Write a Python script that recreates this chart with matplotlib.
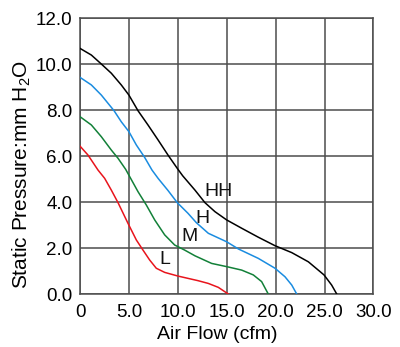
import matplotlib
matplotlib.use('Agg')
import matplotlib.pyplot as plt

plt.rcParams['font.family'] = ['Liberation Sans', 'DejaVu Sans']
plt.rcParams['mathtext.default'] = 'regular'

# fan curves (cfm, mm H2O)
hh_x = [0, 1.16, 2.18, 3.2, 4.22, 5.0, 5.93, 6.95, 7.98, 9.0, 9.95, 10.5, 11.75,
	12.78, 13.8, 15.0, 16.53, 18.23, 19.94, 21.65, 23.35, 24.95, 25.73, 26.25]
hh_y = [10.68, 10.39, 10.0, 9.6, 9.09, 8.65, 7.97, 7.35, 6.7, 6.04, 5.46, 5.14, 4.52,
	3.97, 3.58, 3.22, 2.86, 2.47, 2.1, 1.8, 1.4, 0.83, 0.39, 0.0]

h_x = [0, 1.16, 2.18, 3.48, 4.22, 5.0, 5.76, 6.61, 7.36, 8.0, 9.0, 9.95, 11.04,
	11.9, 13.12, 15.0, 16.19, 18.23, 19.94, 20.96, 21.65, 22.16]
h_y = [9.42, 9.09, 8.65, 7.97, 7.49, 7.06, 6.48, 5.94, 5.39, 5.02, 4.5, 3.97, 3.51,
	3.1, 2.64, 2.27, 1.96, 1.55, 1.12, 0.75, 0.39, 0.0]

m_x = [0, 1.16, 2.18, 3.2, 3.89, 4.67, 5.93, 6.78, 7.64, 8.66, 9.68, 10.7, 11.76,
	13.46, 15.0, 16.53, 17.72, 18.57, 19.25]
m_y = [7.71, 7.35, 6.84, 6.26, 5.9, 5.42, 4.45, 3.87, 3.22, 2.57, 2.13, 1.91, 1.66,
	1.33, 1.19, 1.04, 0.83, 0.54, 0.0]

l_x = [0, 0.82, 1.84, 2.52, 3.2, 3.89, 4.91, 5.76, 6.44, 7.12, 7.8, 8.66, 10.02,
	12.07, 13.12, 14.14, 15.16]
l_y = [6.43, 6.04, 5.39, 5.03, 4.52, 3.97, 3.07, 2.35, 1.91, 1.48, 1.12, 0.94, 0.78,
	0.58, 0.46, 0.29, 0.0]

curve_names = ['HH', 'H', 'M', 'L']
label_pos = [(14.2, 4.46), (12.5, 3.3), (11.15, 2.52), (8.7, 1.48)]
colors = ['#000000', '#1a8ce0', '#128038', '#e8141c']

xticks = [0, 5, 10, 15, 20, 25, 30]
xtick_labels = ['0', '5.0', '10.0', '15.0', '20.0', '25.0', '30.0']
yticks = [0, 2, 4, 6, 8, 10, 12]
ytick_labels = ['0.0', '2.0', '4.0', '6.0', '8.0', '10.0', '12.0']

GRID = '#4d4d4d'

fig = plt.figure(figsize=(4.0, 3.47), dpi=100)
ax = fig.add_axes([0.2, 0.1527, 0.7335, 0.7954])

curves = [(hh_x, hh_y), (h_x, h_y), (m_x, m_y), (l_x, l_y)]
for (xs, ys), c in zip(curves, colors):
	ax.plot(xs, ys, color=c, linewidth=1.1, zorder=3, solid_joinstyle='round')

for name, (tx, ty) in zip(curve_names, label_pos):
	ax.text(tx, ty, name, fontsize=14, ha='center', va='center', color='#111111', zorder=4)

ax.set_xlim(0, 30)
ax.set_ylim(0, 12)
ax.set_xticks(xticks)
ax.set_xticklabels(xtick_labels)
ax.set_yticks(yticks)
ax.set_yticklabels(ytick_labels)
ax.tick_params(length=0, labelsize=13.5)
ax.tick_params(axis='x', pad=7.5)
ax.tick_params(axis='y', pad=5.5)
ax.grid(True, color=GRID, linewidth=1.1)
for s in ax.spines.values():
	s.set_color(GRID)
	s.set_linewidth(1.1)

fig.text(22 / 400, 1 - 174 / 347, 'Static Pressure:mm H$_2$O', rotation=90,
	ha='center', va='center', fontsize=15)
fig.text(217 / 400, 1 - 326 / 347, 'Air Flow (cfm)', ha='center', va='top', fontsize=14)

fig.savefig('out.png', dpi=100)
